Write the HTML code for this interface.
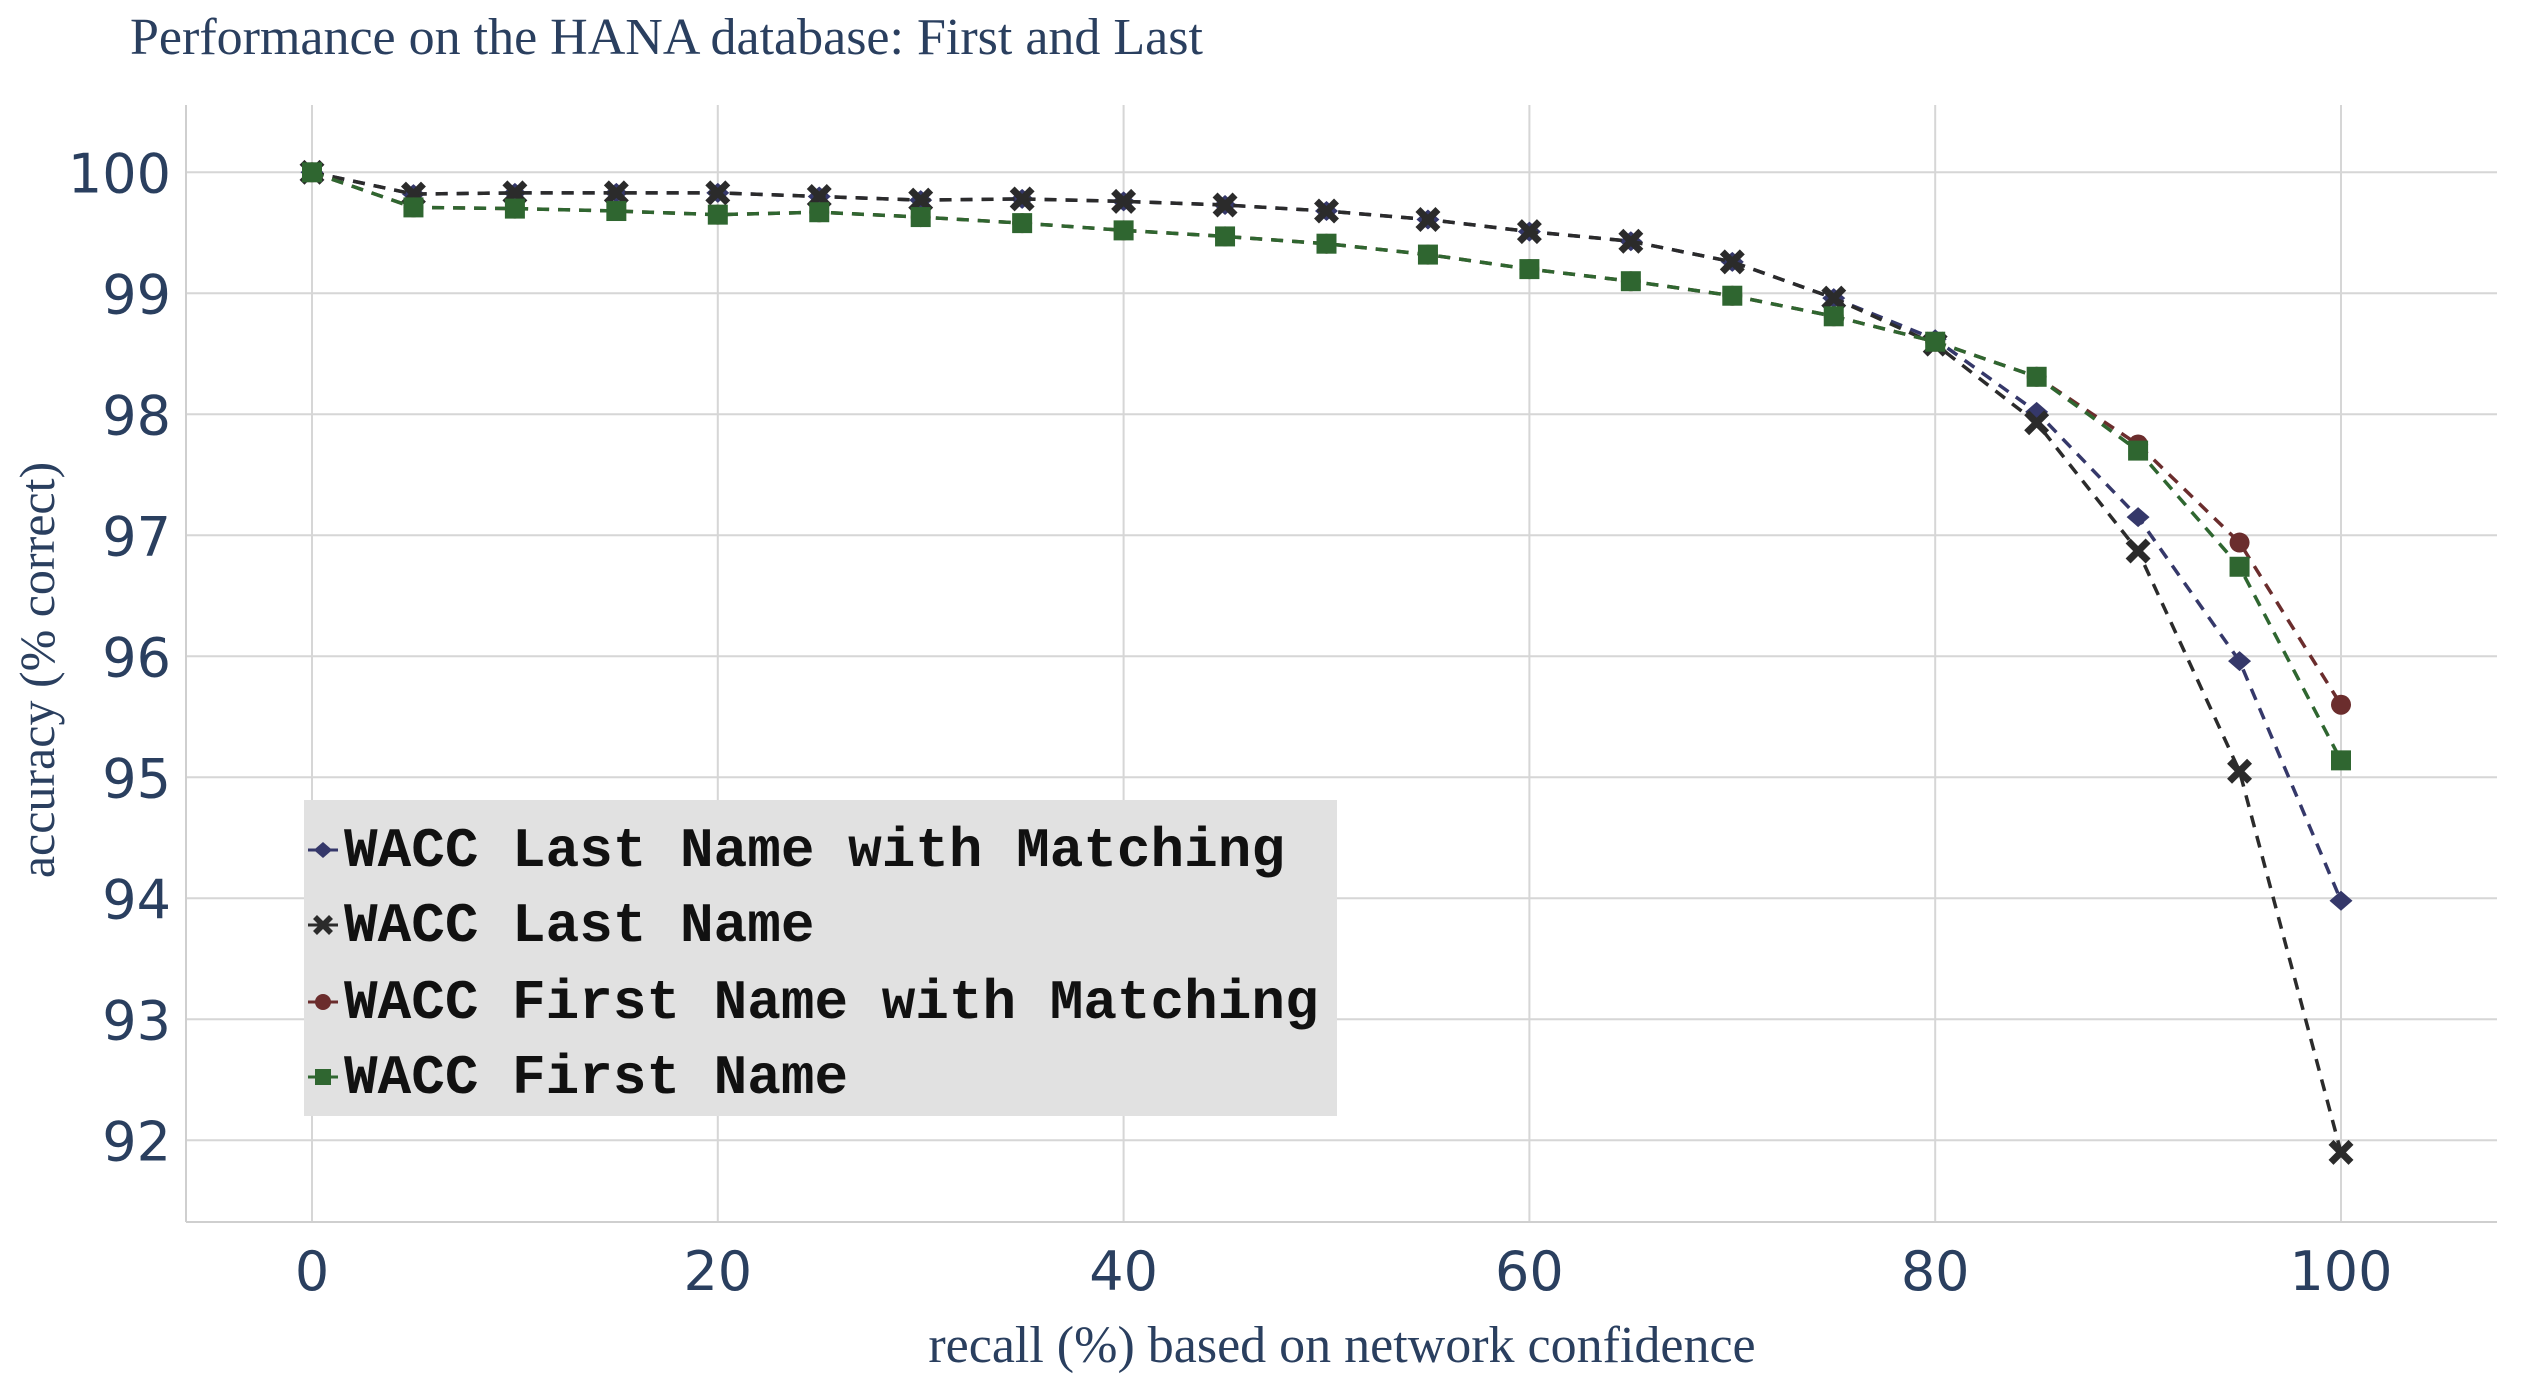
<!DOCTYPE html>
<html><head><meta charset="utf-8"><style>
html,body{margin:0;padding:0;background:#fff;}
svg{display:block;}
</style></head><body>
<svg id="chart" width="2548" height="1374" xmlns="http://www.w3.org/2000/svg">
<text x="130" y="54" font-family="Liberation Serif, serif" font-size="52" fill="#2a3f5f">Performance on the HANA database: First and Last</text>
<g id="grid"></g>
<g id="axes"></g>
<g id="series"></g>
<text x="1342" y="1362" text-anchor="middle" font-family="Liberation Serif, serif" font-size="52" fill="#2a3f5f">recall (%) based on network confidence</text>
<text transform="translate(54,670) rotate(-90)" text-anchor="middle" font-family="Liberation Serif, serif" font-size="50" fill="#2a3f5f">accuracy (% correct)</text>
<g id="legend"></g>
</svg>
<script>
const recall = [0,5,10,15,20,25,30,35,40,45,50,55,60,65,70,75,80,85,90,95,100];
const lastMatch = [100,99.82,99.83,99.83,99.83,99.8,99.77,99.78,99.76,99.73,99.68,99.61,99.51,99.43,99.26,98.96,98.62,98.02,97.15,95.96,93.98];
const lastName = [100,99.82,99.83,99.83,99.83,99.8,99.77,99.78,99.76,99.73,99.68,99.61,99.51,99.43,99.26,98.96,98.58,97.93,96.87,95.05,91.9];
const firstMatch = [100,99.71,99.7,99.68,99.65,99.67,99.63,99.58,99.52,99.47,99.41,99.32,99.2,99.1,98.98,98.81,98.6,98.31,97.75,96.94,95.6];
const firstName = [100,99.71,99.7,99.68,99.65,99.67,99.63,99.58,99.52,99.47,99.41,99.32,99.2,99.1,98.98,98.81,98.6,98.31,97.7,96.74,95.14];
const xTicks = [0,20,40,60,80,100];
const yTicks = [92,93,94,95,96,97,98,99,100];
const seriesNames = ["WACC Last Name with Matching","WACC Last Name","WACC First Name with Matching","WACC First Name"];

const NS="http://www.w3.org/2000/svg";
const L=186,R=2497,T=105,B=1222;
const X=v=>312+(v-0)*(2341-312)/100;
const Y=v=>172.3+(100-v)*121.0;
function mk(tag,attrs,parent){const e=document.createElementNS(NS,tag);for(const k in attrs)e.setAttribute(k,attrs[k]);parent.appendChild(e);return e;}
const grid=document.getElementById('grid'),axes=document.getElementById('axes'),ser=document.getElementById('series'),leg=document.getElementById('legend');
mk('line',{x1:L,y1:T,x2:L,y2:B,stroke:'#cfcfcf','stroke-width':2},axes);
mk('line',{x1:L,y1:B,x2:R,y2:B,stroke:'#cfcfcf','stroke-width':2},axes);
xTicks.forEach(t=>{
  const g=mk('line',{x1:X(t),y1:T,x2:X(t),y2:B,stroke:'#d6d6d6','stroke-width':2},grid);
  
  
  const tx=mk('text',{x:X(t),y:1290,'text-anchor':'middle','font-family':'DejaVu Sans, sans-serif','font-size':54,fill:'#2a3f5f'},axes);
  
  
  tx.textContent=t;
});
yTicks.forEach(t=>{
  const g=mk('line',{x1:L,y1:Y(t),x2:R,y2:Y(t),stroke:'#d6d6d6','stroke-width':2},grid);
  
  
  const tx=mk('text',{x:171,y:Y(t)+20,'text-anchor':'end','font-family':'DejaVu Sans, sans-serif','font-size':54,fill:'#2a3f5f'},axes);
  
  
  tx.textContent=t;
});
function marker(type,x,y,color,parent,s){
  let e;
  if(type==='diamond') e=mk('path',{d:`M${x} ${y-s}L${x+s*1.15} ${y}L${x} ${y+s}L${x-s*1.15} ${y}Z`,fill:color},parent);
  else if(type==='x') e=mk('path',{d:`M${x-s} ${y-s}L${x+s} ${y+s}M${x+s} ${y-s}L${x-s} ${y+s}`,stroke:color,'stroke-width':s*0.7,fill:'none'},parent);
  else if(type==='circle') e=mk('circle',{cx:x,cy:y,r:s,fill:color},parent);
  else e=mk('rect',{x:x-s,y:y-s,width:2*s,height:2*s,fill:color},parent);
  return e;
}
const defs=[[lastMatch,'#35386a','diamond'],[lastName,'#2b2b2b','x'],[firstMatch,'#6b2d2d','circle'],[firstName,'#2f6630','square']];
const slugs=['last-name-matching','last-name','first-name-matching','first-name'];
defs.forEach((d,i)=>{
  const g=mk('g',{},ser);
  
  
  const pts=recall.map((r,j)=>X(r)+','+Y(d[0][j])).join(' ');
  const pl=mk('polyline',{points:pts,fill:'none',stroke:d[1],'stroke-width':3.5,'stroke-dasharray':'12,9'},g);
  
  
  recall.forEach((r,j)=>{
    const m=marker(d[2],X(r),Y(d[0][j]),d[1],g,10);
    
    
  });
});
const bg=mk('rect',{x:304,y:800,width:1033,height:316,fill:'#e1e1e1'},leg);


const ly=[850,925,1002,1077];
defs.forEach((d,i)=>{
  const g=mk('g',{},leg);
  
  
  mk('line',{x1:308,y1:ly[i],x2:338,y2:ly[i],stroke:d[1],'stroke-width':3},g);
  marker(d[2],323,ly[i],d[1],g,8);
  const t=mk('text',{x:344,y:ly[i]+16,'font-family':'Liberation Mono, monospace','font-size':56,'font-weight':'bold',fill:'#111'},g);
  
  
  t.textContent=seriesNames[i];
});
</script>
</body></html>
